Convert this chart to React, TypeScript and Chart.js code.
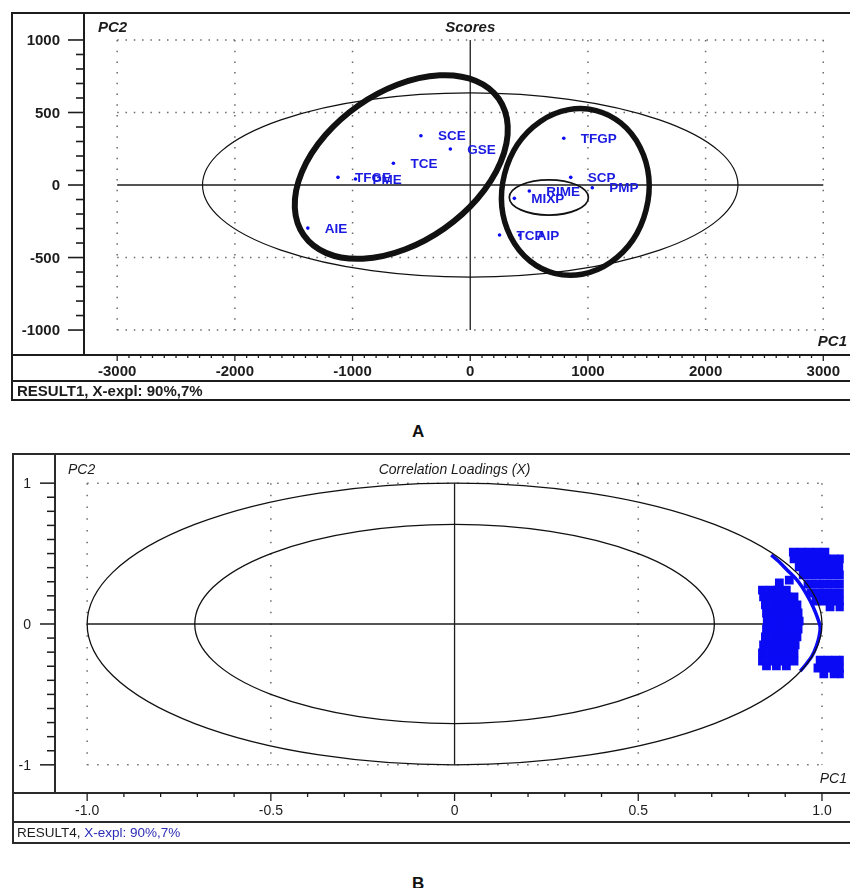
import React, { useEffect, useRef } from "react";
import { Chart, registerables } from "chart.js";

Chart.register(...registerables);

const FONT = '"Liberation Sans", Arial, Helvetica, sans-serif';
const BLUE_TEXT = "#1a1ae0";
const BLUE_MARK = "#0a0af5";
const FOOT_BLUE = "#2b2bb5";
const INK = "#1c1c1c";
const DOTS = "#6a6a6a";

// ---------------- Panel A : Scores ----------------
const scoreLabels = ["SCE", "GSE", "TCE", "TFGE", "PME", "AIE", "TFGP", "SCP", "PMP", "MIXP", "RIME", "TCP", "AIP"];
const scorePC1 = [-419, -169, -653, -1124, -975, -1380, 795, 854, 1037, 375, 502, 249, 420];
const scorePC2 = [340, 248, 150, 53, 41, -297, 322, 53, -19, -92, -41, -345, -345];
const scoreXTicks = [-3000, -2000, -1000, 0, 1000, 2000, 3000];
const scoreXTickLabels = ["-3000", "-2000", "-1000", "0", "1000", "2000", "3000"];
const scoreYTicks = [1000, 500, 0, -500, -1000];
const scoreYTickLabels = ["1000", "500", "0", "-500", "-1000"];
const scoreXLimits = [-3282, 3193];
const scoreYLimits = [-1172, 1186];
const hotellingRadii = [2275, 635];
const mixCenter = [668, -86];
const mixRadii = [336, 121];
const extractCenter = [-586, 124];
const powderCenter = [893, -48];

// ---------------- Panel B : Correlation loadings ----------------
const loadXTicks = [-1, -0.5, 0, 0.5, 1];
const loadXTickLabels = ["-1.0", "-0.5", "0", "0.5", "1.0"];
const loadYTicks = [1, 0, -1];
const loadYTickLabels = ["1", "0", "-1"];
const loadXLimits = [-1.0875, 1.0594];
const loadYLimits = [-1.2, 1.207];
const circleRadii = [1, 0.7071];

const arcPC1 = [0.862, 0.884, 0.905, 0.927, 0.946, 0.962, 0.976, 0.987, 0.995, 0.992, 0.984, 0.973, 0.957, 0.941];
const arcPC2 = [0.49, 0.44, 0.384, 0.327, 0.263, 0.192, 0.121, 0.05, -0.021, -0.092, -0.163, -0.227, -0.284, -0.334];

const upperPC1 = [
  0.922, 0.944, 0.965, 0.987, 1.008,
  0.924, 0.946, 0.968, 0.989, 1.011, 1.033, 1.054,
  0.938, 0.96, 0.981, 1.003, 1.024, 1.046,
  0.949, 0.971, 0.992, 1.014, 1.035, 1.057,
  0.962, 0.984, 1.005, 1.027, 1.049,
  0.97, 0.992, 1.014, 1.035, 1.057,
  0.984, 1.005, 1.027, 1.049,
  1.022, 1.049,
];
const upperPC2 = [
  0.511, 0.511, 0.511, 0.511, 0.511,
  0.462, 0.462, 0.462, 0.462, 0.462, 0.462, 0.462,
  0.405, 0.405, 0.405, 0.405, 0.405, 0.405,
  0.348, 0.348, 0.348, 0.348, 0.348, 0.348,
  0.284, 0.284, 0.284, 0.284, 0.284,
  0.22, 0.22, 0.22, 0.22, 0.22,
  0.163, 0.163, 0.163, 0.163,
  0.121, 0.121,
];

const crescentPC1 = [
  0.838, 0.86, 0.881, 0.903,
  0.841, 0.862, 0.884, 0.905, 0.924,
  0.846, 0.868, 0.889, 0.911, 0.932,
  0.849, 0.87, 0.892, 0.914, 0.935,
  0.851, 0.873, 0.895, 0.916, 0.938,
  0.849, 0.87, 0.892, 0.914, 0.935,
  0.846, 0.868, 0.889, 0.911, 0.932,
  0.841, 0.862, 0.884, 0.905, 0.927,
  0.838, 0.86, 0.881, 0.903, 0.924,
  0.838, 0.86, 0.881, 0.903, 0.924,
  0.849, 0.876, 0.903,
  0.884, 0.911,
];
const crescentPC2 = [
  0.241, 0.241, 0.241, 0.241,
  0.192, 0.192, 0.192, 0.192, 0.192,
  0.135, 0.135, 0.135, 0.135, 0.135,
  0.078, 0.078, 0.078, 0.078, 0.078,
  0.021, 0.021, 0.021, 0.021, 0.021,
  -0.036, -0.036, -0.036, -0.036, -0.036,
  -0.092, -0.092, -0.092, -0.092, -0.092,
  -0.149, -0.149, -0.149, -0.149, -0.149,
  -0.206, -0.206, -0.206, -0.206, -0.206,
  -0.263, -0.263, -0.263, -0.263, -0.263,
  -0.298, -0.298, -0.298,
  0.291, 0.312,
];

const lowerPC1 = [0.995, 1.016, 1.038, 1.059, 0.989, 1.011, 1.033, 1.054, 1.005, 1.033, 1.054];
const lowerPC2 = [-0.256, -0.256, -0.256, -0.256, -0.3125, -0.3125, -0.3125, -0.3125, -0.355, -0.355, -0.355];

// ---------------- helpers ----------------
function toPoints(xs: number[], ys: number[]) {
  return xs.map((x, i) => ({ x, y: ys[i] }));
}

function seg(ctx: CanvasRenderingContext2D, x1: number, y1: number, x2: number, y2: number, w: number, color = INK) {
  ctx.save();
  ctx.strokeStyle = color;
  ctx.lineWidth = w;
  ctx.beginPath();
  ctx.moveTo(x1, y1);
  ctx.lineTo(x2, y2);
  ctx.stroke();
  ctx.restore();
}

function dotted(ctx: CanvasRenderingContext2D, x1: number, y1: number, x2: number, y2: number, dash: number[]) {
  ctx.save();
  ctx.setLineDash(dash);
  ctx.strokeStyle = DOTS;
  ctx.lineWidth = 1.5;
  ctx.beginPath();
  ctx.moveTo(x1, y1);
  ctx.lineTo(x2, y2);
  ctx.stroke();
  ctx.restore();
}

function ell(ctx: CanvasRenderingContext2D, cx: number, cy: number, rx: number, ry: number, rot: number, w: number) {
  ctx.save();
  ctx.strokeStyle = "#111";
  ctx.lineWidth = w;
  ctx.beginPath();
  ctx.ellipse(cx, cy, rx, ry, rot, 0, Math.PI * 2);
  ctx.stroke();
  ctx.restore();
}

const scoresDecor = {
  id: "scoresDecor",
  beforeDatasetsDraw(chart: any) {
    const ctx: CanvasRenderingContext2D = chart.ctx;
    const ca = chart.chartArea;
    const W = chart.width;
    const X = (v: number) => chart.scales.x.getPixelForValue(v);
    const Y = (v: number) => chart.scales.y.getPixelForValue(v);
    ctx.save();
    ctx.strokeStyle = INK;
    ctx.lineWidth = 2;
    ctx.beginPath();
    ctx.moveTo(W + 2, ca.top);
    ctx.lineTo(12, ca.top);
    ctx.lineTo(12, 400);
    ctx.lineTo(W + 2, 400);
    ctx.moveTo(12, ca.bottom);
    ctx.lineTo(W + 2, ca.bottom);
    ctx.moveTo(12, 381);
    ctx.lineTo(W + 2, 381);
    ctx.moveTo(ca.left, ca.top);
    ctx.lineTo(ca.left, ca.bottom);
    ctx.stroke();

    const xmin = scoreXTicks[0], xmax = scoreXTicks[scoreXTicks.length - 1];
    const ymax = scoreYTicks[0], ymin = scoreYTicks[scoreYTicks.length - 1];
    scoreXTicks.forEach((v) => { if (v !== 0) dotted(ctx, X(v), Y(ymax), X(v), Y(ymin), [1.5, 9.2]); });
    scoreYTicks.forEach((v) => { if (v !== 0) dotted(ctx, X(xmin), Y(v), X(xmax), Y(v), [1.5, 6.8]); });
    seg(ctx, X(xmin), Y(0), X(xmax), Y(0), 1.3);
    seg(ctx, X(0), Y(ymax), X(0), Y(ymin), 1.3);

    for (let v = ymin; v <= ymax; v += 100) {
      const major = v % 500 === 0;
      seg(ctx, ca.left - (major ? 16 : 8), Y(v), ca.left, Y(v), 1.6);
    }
    for (let v = xmin; v <= xmax; v += 100) {
      const major = v % 1000 === 0;
      seg(ctx, X(v), ca.bottom, X(v), ca.bottom + (major ? 6 : 3), 1.3);
    }

    ctx.fillStyle = INK;
    ctx.font = `bold 15px ${FONT}`;
    ctx.textBaseline = "middle";
    ctx.textAlign = "right";
    scoreYTicks.forEach((v, i) => ctx.fillText(scoreYTickLabels[i], ca.left - 24, Y(v) + 1));
    ctx.textAlign = "center";
    scoreXTicks.forEach((v, i) => ctx.fillText(scoreXTickLabels[i], X(v), 372));

    ctx.font = `italic bold 15px ${FONT}`;
    ctx.textAlign = "left";
    ctx.fillText("PC2", 98, 28);
    ctx.textAlign = "center";
    ctx.fillText("Scores", X(0), 28);
    ctx.textAlign = "right";
    ctx.fillText("PC1", 847, 342);

    ctx.font = `bold 15px ${FONT}`;
    ctx.textAlign = "left";
    ctx.fillText("RESULT1, X-expl: 90%,7%", 17, 391.5);
    ctx.restore();
  },
  afterDatasetsDraw(chart: any) {
    const ctx: CanvasRenderingContext2D = chart.ctx;
    const X = (v: number) => chart.scales.x.getPixelForValue(v);
    const Y = (v: number) => chart.scales.y.getPixelForValue(v);
    ctx.save();
    ell(ctx, X(0), Y(0), Math.abs(X(hotellingRadii[0]) - X(0)), Math.abs(Y(hotellingRadii[1]) - Y(0)), 0, 1.2);
    ell(ctx, X(mixCenter[0]), Y(mixCenter[1]), Math.abs(X(mixRadii[0]) - X(0)), Math.abs(Y(mixRadii[1]) - Y(0)), 0, 1.7);
    ell(ctx, X(extractCenter[0]), Y(extractCenter[1]), 119, 75, -0.611, 6);
    ell(ctx, X(powderCenter[0]), Y(powderCenter[1]), 73, 84, 0.25, 5.5);

    ctx.fillStyle = BLUE_TEXT;
    ctx.font = `bold 13.5px ${FONT}`;
    ctx.textAlign = "left";
    ctx.textBaseline = "middle";
    scoreLabels.forEach((lab, i) => {
      ctx.fillText(lab, X(scorePC1[i]) + 17, Y(scorePC2[i]) + 1);
    });
    ctx.restore();
  },
};

const loadingsDecor = {
  id: "loadingsDecor",
  beforeDatasetsDraw(chart: any) {
    const ctx: CanvasRenderingContext2D = chart.ctx;
    const ca = chart.chartArea;
    const W = chart.width;
    const X = (v: number) => chart.scales.x.getPixelForValue(v);
    const Y = (v: number) => chart.scales.y.getPixelForValue(v);
    ctx.save();
    ctx.strokeStyle = "#2a2a2a";
    ctx.lineWidth = 2;
    ctx.beginPath();
    ctx.moveTo(W + 2, ca.top);
    ctx.lineTo(13, ca.top);
    ctx.lineTo(13, 398);
    ctx.lineTo(W + 2, 398);
    ctx.moveTo(13, ca.bottom);
    ctx.lineTo(W + 2, ca.bottom);
    ctx.moveTo(13, 377);
    ctx.lineTo(W + 2, 377);
    ctx.moveTo(ca.left, ca.top);
    ctx.lineTo(ca.left, ca.bottom);
    ctx.stroke();

    const xmin = loadXTicks[0], xmax = loadXTicks[loadXTicks.length - 1];
    const ymax = loadYTicks[0], ymin = loadYTicks[loadYTicks.length - 1];
    loadXTicks.forEach((v) => { if (v !== 0) dotted(ctx, X(v), Y(ymax), X(v), Y(ymin), [1.5, 10.2]); });
    loadYTicks.forEach((v) => { if (v !== 0) dotted(ctx, X(xmin), Y(v), X(xmax), Y(v), [1.5, 8.5]); });
    seg(ctx, X(xmin), Y(0), X(xmax), Y(0), 1.3);
    seg(ctx, X(0), Y(ymax), X(0), Y(ymin), 1.3);

    for (let k = -10; k <= 10; k++) {
      const major = k % 10 === 0;
      seg(ctx, ca.left - (major ? 15 : 8), Y(k / 10), ca.left, Y(k / 10), 1.5);
    }
    for (let k = -10; k <= 10; k++) {
      const major = k % 5 === 0;
      seg(ctx, X(k / 10), ca.bottom, X(k / 10), ca.bottom + (major ? 8 : 4), 1.3);
    }

    ctx.fillStyle = INK;
    ctx.font = `14px ${FONT}`;
    ctx.textBaseline = "middle";
    ctx.textAlign = "right";
    loadYTicks.forEach((v, i) => ctx.fillText(loadYTickLabels[i], 31, Y(v) + 1));
    ctx.textAlign = "center";
    loadXTicks.forEach((v, i) => ctx.fillText(loadXTickLabels[i], X(v), 366.5));

    ctx.font = `italic 14px ${FONT}`;
    ctx.textAlign = "left";
    ctx.fillText("PC2", 68, 25.5);
    ctx.textAlign = "center";
    ctx.fillText("Correlation Loadings (X)", X(0), 25);
    ctx.textAlign = "right";
    ctx.fillText("PC1", 847, 334);

    ctx.font = `13.5px ${FONT}`;
    ctx.textAlign = "left";
    const first = "RESULT4, ";
    ctx.fillText(first, 17, 388);
    ctx.fillStyle = FOOT_BLUE;
    ctx.fillText("X-expl: 90%,7%", 17 + ctx.measureText(first).width, 388);
    ctx.restore();
  },
  afterDatasetsDraw(chart: any) {
    const ctx: CanvasRenderingContext2D = chart.ctx;
    const X = (v: number) => chart.scales.x.getPixelForValue(v);
    const Y = (v: number) => chart.scales.y.getPixelForValue(v);
    circleRadii.forEach((r) => {
      ell(ctx, X(0), Y(0), Math.abs(X(r) - X(0)), Math.abs(Y(r) - Y(0)), 0, 1.3);
    });
  },
};

function baseOptions(pad: any, xl: number[], yl: number[]) {
  return {
    responsive: false,
    animation: false as const,
    devicePixelRatio: 1,
    events: [],
    layout: { padding: pad },
    plugins: { legend: { display: false }, tooltip: { enabled: false }, title: { display: false } },
    scales: {
      x: { type: "linear" as const, display: false, min: xl[0], max: xl[1] },
      y: { type: "linear" as const, display: false, min: yl[0], max: yl[1] },
    },
  };
}

function ChartCanvas({ top, height, build }: { top: number; height: number; build: () => any }) {
  const ref = useRef<HTMLCanvasElement | null>(null);
  useEffect(() => {
    const chart = new Chart(ref.current as HTMLCanvasElement, build());
    return () => chart.destroy();
  }, []);
  return (
    <canvas
      ref={ref}
      width={850}
      height={height}
      style={{ position: "absolute", left: 0, top, width: 850, height }}
    />
  );
}

function buildScores() {
  return {
    type: "scatter",
    data: {
      datasets: [
        {
          data: toPoints(scorePC1, scorePC2),
          backgroundColor: BLUE_MARK,
          borderWidth: 0,
          pointRadius: 1.8,
        },
      ],
    },
    options: baseOptions({ left: 84, top: 13, right: 0, bottom: 55 }, scoreXLimits, scoreYLimits),
    plugins: [scoresDecor],
  };
}

function buildLoadings() {
  const blob = { backgroundColor: BLUE_MARK, borderWidth: 0, pointRadius: 6.2, pointStyle: "rect" };
  return {
    type: "scatter",
    data: {
      datasets: [
        { data: toPoints(upperPC1, upperPC2), ...blob },
        { data: toPoints(crescentPC1, crescentPC2), ...blob },
        { data: toPoints(lowerPC1, lowerPC2), ...blob },
        {
          data: toPoints(arcPC1, arcPC2),
          showLine: true,
          borderColor: BLUE_MARK,
          borderWidth: 3.5,
          pointRadius: 0,
          tension: 0.3,
        },
      ],
    },
    options: baseOptions({ left: 55, top: 9, right: 0, bottom: 57 }, loadXLimits, loadYLimits),
    plugins: [loadingsDecor],
  };
}

const panelLetter: React.CSSProperties = {
  position: "absolute",
  left: 412,
  fontFamily: FONT,
  fontWeight: "bold",
  fontSize: 17,
  lineHeight: "17px",
  color: "#111",
};

export default function App() {
  return (
    <div style={{ position: "absolute", left: 0, top: 0, width: 850, height: 888, background: "#fff", overflow: "hidden" }}>
      <ChartCanvas top={0} height={410} build={buildScores} />
      <div style={{ ...panelLetter, top: 423 }}>A</div>
      <ChartCanvas top={445} height={405} build={buildLoadings} />
      <div style={{ ...panelLetter, top: 875 }}>B</div>
    </div>
  );
}
